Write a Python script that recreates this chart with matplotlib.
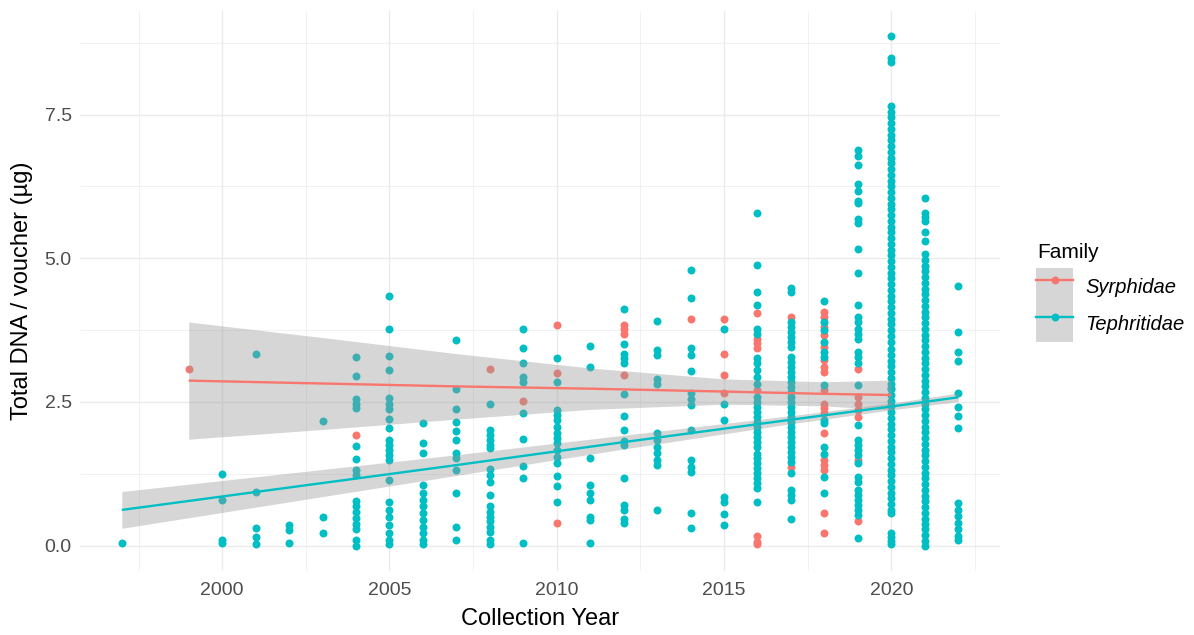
import numpy as np
import pandas as pd
import matplotlib
matplotlib.use('Agg')
import matplotlib.pyplot as plt
from matplotlib.lines import Line2D
from matplotlib.patches import Patch
from matplotlib.legend_handler import HandlerTuple

plt.rcParams['font.family'] = ['Liberation Sans', 'DejaVu Sans']

# DNA yield per voucher, grouped by collection year
teph_years = [1997, 2000, 2001, 2002, 2003, 2004, 2005, 2006, 2007, 2008, 2009,
              2010, 2011, 2012, 2013, 2014, 2015, 2016, 2017, 2018, 2019, 2020,
              2021, 2022]
teph_dna = [
  [0.05],
  [1.24, 0.79, 0.1, 0.04],
  [3.33, 0.93, 0.31, 0.15, 0.02],
  [0.35, 0.27, 0.05],
  [2.16, 0.49, 0.21],
  [3.28, 2.95, 2.55, 2.47, 2.4, 1.73, 1.5, 1.32, 1.22, 0.78, 0.68, 0.58, 0.48, 0.38, 0.28, 0.1, 0.0],
  [4.35, 3.76, 3.3, 3.06, 2.56, 2.47, 2.37, 2.21, 2.04, 1.84, 1.75, 1.66, 1.58, 1.49, 1.14, 0.75,
   0.62, 0.5, 0.36, 0.22, 0.1, 0.02],
  [2.13, 1.78, 1.61, 1.05, 0.92, 0.8, 0.68, 0.57, 0.45, 0.33, 0.22, 0.1, 0.02],
  [3.57, 2.72, 2.37, 2.15, 1.99, 1.84, 1.61, 1.52, 1.32, 0.92, 0.33, 0.1],
  [2.46, 2.01, 1.92, 1.84, 1.75, 1.7, 1.33, 1.23, 1.11, 0.88, 0.68, 0.59, 0.5, 0.42, 0.33, 0.24,
   0.1, 0.02],
  [3.76, 3.43, 3.17, 2.93, 2.84, 2.3, 1.85, 1.39, 1.18, 0.05],
  [3.26, 2.84, 2.36, 2.27, 2.18, 2.06, 1.96, 1.87, 1.78, 1.66, 1.54, 1.44, 1.21, 1.04, 0.75],
  [3.48, 3.1, 1.53, 1.06, 0.92, 0.8, 0.5, 0.45, 0.05],
  [4.12, 3.5, 3.34, 3.26, 3.17, 2.63, 2.26, 2.01, 1.82, 1.75, 1.18, 0.71, 0.62, 0.47, 0.4],
  [3.9, 3.41, 3.31, 2.89, 2.81, 1.96, 1.84, 1.72, 1.61, 1.49, 1.4, 0.61],
  [4.8, 4.3, 3.43, 3.31, 3.03, 2.65, 2.55, 2.44, 2.01, 1.49, 1.37, 1.28, 0.57, 0.31],
  [3.76, 2.46, 2.18, 0.85, 0.76, 0.55, 0.36],
  [5.79, 4.89, 4.41, 4.19, 3.76, 3.69, 3.26, 3.17, 3.05, 2.93, 2.82, 2.59, 2.5, 2.41, 2.33, 2.24,
   2.15, 2.07, 1.98, 1.89, 1.81, 1.72, 1.6, 1.52, 1.43, 1.35, 1.26, 1.17, 1.09, 1.0, 0.75],
  [4.49, 4.41, 3.89, 3.8, 3.72, 3.63, 3.54, 3.45, 3.28, 3.19, 3.1, 3.02, 2.93, 2.84, 2.76, 2.67,
   2.58, 2.5, 2.41, 2.32, 2.23, 2.15, 2.06, 1.97, 1.89, 1.8, 1.71, 1.62, 1.54, 1.45, 1.26, 0.97,
   0.88, 0.8, 0.46],
  [4.26, 3.89, 3.75, 3.55, 3.37, 3.28, 2.79, 2.18, 2.13, 1.72, 1.6, 1.2, 0.91],
  [6.89, 6.78, 6.63, 6.29, 6.17, 6.0, 5.97, 5.68, 5.62, 5.16, 4.74, 4.18, 3.97, 3.89, 3.77, 3.69,
   3.6, 3.37, 3.28, 3.17, 2.79, 2.1, 1.84, 1.75, 1.66, 1.58, 1.43, 1.2, 1.11, 0.97, 0.88, 0.8,
   0.71, 0.62, 0.54, 0.13],
  [8.86, 8.49, 8.42, 7.65, 7.55, 7.45, 7.35, 7.25, 7.15, 7.05, 6.95, 6.85, 6.75, 6.65, 6.55, 6.45,
   6.35, 6.25, 6.15, 6.05, 5.95, 5.85, 5.75, 5.65, 5.55, 5.45, 5.35, 5.25, 5.15, 5.05, 4.95, 4.85,
   4.75, 4.65, 4.55, 4.45, 4.35, 4.25, 4.15, 4.05, 3.95, 3.85, 3.75, 3.65, 3.55, 3.42, 3.32, 3.22,
   3.12, 3.02, 2.92, 2.82, 2.72, 2.62, 2.52, 2.42, 2.32, 2.22, 2.12, 2.02, 1.92, 1.82, 1.72, 1.62,
   1.52, 1.42, 1.32, 1.22, 1.12, 1.02, 0.92, 0.82, 0.72, 0.62, 0.57, 0.22, 0.15, 0.08, 0.02],
  [6.05, 5.79, 5.71, 5.65, 5.45, 5.3, 5.07, 4.97, 4.87, 4.77, 4.67, 4.57, 4.47, 4.37, 4.27, 4.17,
   4.07, 3.97, 3.87, 3.77, 3.67, 3.57, 3.47, 3.37, 3.27, 3.17, 3.07, 2.97, 2.87, 2.77, 2.67, 2.57,
   2.47, 2.37, 2.27, 2.17, 2.07, 1.97, 1.87, 1.77, 1.67, 1.57, 1.47, 1.37, 1.27, 1.17, 1.07, 0.97,
   0.87, 0.77, 0.67, 0.57, 0.47, 0.38, 0.28, 0.18, 0.08, 0.0],
  [4.52, 3.71, 3.37, 3.21, 2.65, 2.41, 2.25, 2.04, 0.74, 0.62, 0.51, 0.39, 0.28, 0.16, 0.1],
]

syr_years = [1999, 2004, 2008, 2009, 2010, 2012, 2014, 2015, 2016, 2017, 2018, 2019, 2020]
syr_dna = [
  [3.08],
  [1.92],
  [3.08],
  [2.51],
  [3.84, 3.0, 0.4],
  [3.84, 3.76, 3.69, 2.97],
  [3.95],
  [3.95, 3.33, 2.96, 2.65],
  [4.04, 3.6, 3.52, 3.43, 2.7, 0.16, 0.07, 0.02],
  [3.97, 1.37],
  [4.06, 3.97, 3.8, 3.67, 3.45, 3.23, 3.11, 3.02, 2.7, 2.47, 2.39, 2.3, 1.95, 1.49, 1.4, 1.32,
   0.57, 0.21],
  [3.08, 2.59, 2.47, 2.36, 2.24, 1.49, 0.42],
  [2.45, 2.75],
]

# linear trend (lm) and 95% band half-width per family
teph_fit_years = [1997, 2002, 2007, 2012, 2017, 2020, 2022]
teph_fit = [0.62, 1.01, 1.40, 1.80, 2.19, 2.42, 2.58]
teph_ci = [0.32, 0.25, 0.18, 0.12, 0.07, 0.06, 0.075]

syr_fit_years = [1999, 2003, 2007, 2011, 2015, 2018, 2020]
syr_fit = [2.87, 2.82, 2.77, 2.73, 2.68, 2.64, 2.62]
syr_ci = [1.02, 0.80, 0.57, 0.36, 0.22, 0.21, 0.26]

families = ['Syrphidae', 'Tephritidae']
colors = {'Syrphidae': '#F8766D', 'Tephritidae': '#00BFC4'}


def to_long(yrs, vals, family):
  rows = [(y, v) for y, vs in zip(yrs, vals) for v in vs]
  df = pd.DataFrame(rows, columns=['year', 'dna'])
  df['family'] = family
  return df


df = pd.concat([to_long(syr_years, syr_dna, 'Syrphidae'),
                to_long(teph_years, teph_dna, 'Tephritidae')])

fits = {
  'Syrphidae': (syr_fit_years, syr_fit, syr_ci),
  'Tephritidae': (teph_fit_years, teph_fit, teph_ci),
}

fig = plt.figure(figsize=(11.94, 6.35), dpi=100)
ax = fig.add_axes([80 / 1194, 64 / 635, 920 / 1194, 560 / 635])

# points first, smoothers on top (ggplot layer order)
for fam in families:
  d = df[df['family'] == fam]
  ax.scatter(d['year'], d['dna'], s=33, color=colors[fam], linewidths=0, zorder=2)

z = 3
for fam in families:
  fx, fy, ci = fits[fam]
  fx = np.array(fx)
  fy = np.array(fy)
  ci = np.array(ci)
  ax.fill_between(fx, fy - ci, fy + ci, color='#999999', alpha=0.4, linewidth=0, zorder=z)
  ax.plot(fx, fy, color=colors[fam], lw=1.7, zorder=z + 1, solid_capstyle='butt')
  z += 2

# axes / grid in theme_minimal style
ax.set_xlim(1995.75, 2023.25)
ax.set_ylim(-0.443, 9.303)
ax.set_xticks([2000, 2005, 2010, 2015, 2020])
ax.set_xticks([1997.5, 2002.5, 2007.5, 2012.5, 2017.5, 2022.5], minor=True)
ax.set_yticks([0, 2.5, 5.0, 7.5])
ax.set_yticklabels(['0.0', '2.5', '5.0', '7.5'])
ax.set_yticks([1.25, 3.75, 6.25, 8.75], minor=True)
ax.grid(which='major', color='#EBEBEB', lw=1.0)
ax.grid(which='minor', color='#EBEBEB', lw=0.5)
ax.set_axisbelow(True)
for s in ax.spines.values():
  s.set_visible(False)
ax.tick_params(which='both', length=0)
ax.tick_params(axis='x', labelsize=14, labelcolor='#4D4D4D', pad=8)
ax.tick_params(axis='y', labelsize=14, labelcolor='#4D4D4D', pad=6)

ax.set_xlabel('Collection Year', fontsize=17, color='black', va='center')
ax.xaxis.set_label_coords(0.5, -0.086)
ax.set_ylabel('Total DNA / voucher (µg)', fontsize=17, color='black', va='center')
ax.yaxis.set_label_coords(-0.063, 0.5)

# legend: grey key background with line + point
fig.text(1037 / 1194, 1 - 258 / 635, 'Family', fontsize=15, va='baseline', ha='left')
handles = [(Patch(facecolor='#D6D6D6', edgecolor='none'),
            Line2D([], [], color=colors[f], lw=1.7, marker='o', markersize=5.7,
                   markeredgewidth=0)) for f in families]
leg = fig.legend(handles, families, handler_map={tuple: HandlerTuple(ndivide=1, pad=0)},
                 loc='upper left', bbox_to_anchor=(1036 / 1194, 1 - 268 / 635),
                 frameon=False, fontsize=14.5, labelspacing=0, handlelength=1.85,
                 handleheight=2.45, handletextpad=0.6, borderpad=0, borderaxespad=0,
                 numpoints=1)
for t in leg.get_texts():
  t.set_fontstyle('italic')

fig.savefig('out.png', dpi=100)
